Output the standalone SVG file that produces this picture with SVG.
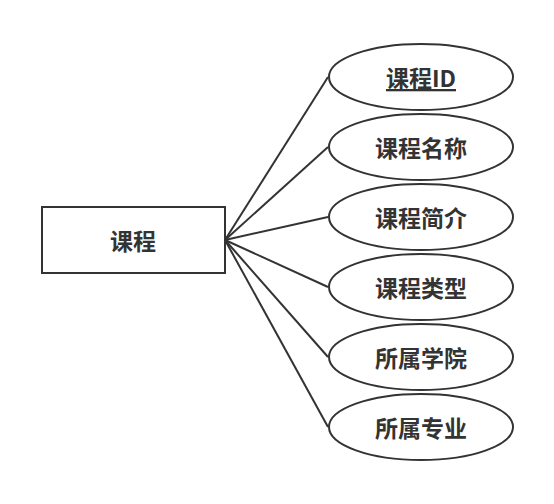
<svg xmlns="http://www.w3.org/2000/svg" width="554" height="504" viewBox="0 0 554 504">
<style>
.n{fill:#fff;stroke:#333;stroke-width:2}
.t{font-family:"Noto Sans CJK SC","Noto Sans",sans-serif;font-size:23px;font-weight:bold;fill:#333;text-anchor:middle;dominant-baseline:central}
.c{stroke:#333;stroke-width:2;fill:none}
</style>
<rect width="554" height="504" fill="#fff"/>
<g id="connectors">
<line class="c" x1="225" y1="240" x2="328" y2="77"/>
<line class="c" x1="225" y1="240" x2="328" y2="147"/>
<line class="c" x1="225" y1="240" x2="328" y2="217"/>
<line class="c" x1="225" y1="240" x2="328" y2="287"/>
<line class="c" x1="225" y1="240" x2="328" y2="357"/>
<line class="c" x1="225" y1="240" x2="328" y2="427"/>
</g>
<g id="course">
<rect class="n" x="42" y="207" width="183" height="66"/>
<text class="t" x="133" y="240">课程</text>
</g>
<g id="attr-id">
<ellipse class="n" cx="421" cy="77" rx="92" ry="33"/>
<text class="t" x="421" y="77" text-decoration="underline">课程ID</text>
</g>
<g id="attr-name">
<ellipse class="n" cx="421" cy="147" rx="92" ry="33"/>
<text class="t" x="421" y="147">课程名称</text>
</g>
<g id="attr-intro">
<ellipse class="n" cx="421" cy="217" rx="92" ry="33"/>
<text class="t" x="421" y="217">课程简介</text>
</g>
<g id="attr-type">
<ellipse class="n" cx="421" cy="287" rx="92" ry="33"/>
<text class="t" x="421" y="287">课程类型</text>
</g>
<g id="attr-college">
<ellipse class="n" cx="421" cy="357" rx="92" ry="33"/>
<text class="t" x="421" y="357">所属学院</text>
</g>
<g id="attr-major">
<ellipse class="n" cx="421" cy="427" rx="92" ry="33"/>
<text class="t" x="421" y="427">所属专业</text>
</g>
</svg>
